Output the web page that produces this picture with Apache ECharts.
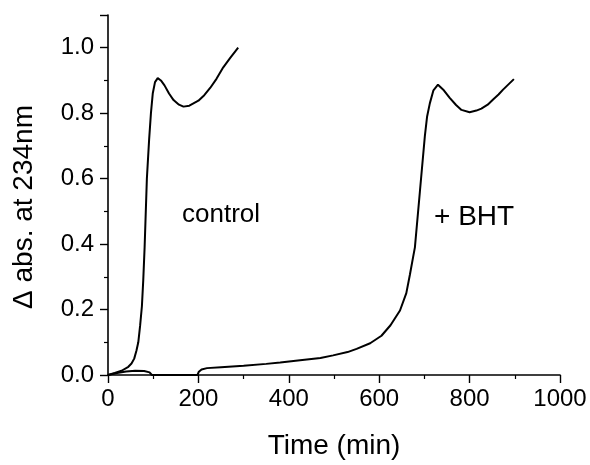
<!DOCTYPE html>
<html>
<head>
<meta charset="utf-8">
<script src="https://cdn.jsdelivr.net/npm/echarts@6/dist/echarts.min.js"></script>
<style>
  html, body { margin: 0; padding: 0; background: #fff; }
  #chart { width: 590px; height: 465px; }
</style>
</head>
<body>
<div id="chart"></div>
<script>
// control curve
var controlTime = [0, 15, 30, 45, 52, 58, 63, 67, 71, 75, 78, 81, 86, 91, 95, 99, 104, 110, 117, 125,
    135, 145, 157, 167, 180, 200, 213, 226, 240, 255, 270, 288];
var controlAbs = [0, 0.006, 0.013, 0.025, 0.035, 0.05, 0.075, 0.1, 0.15, 0.21, 0.29, 0.39, 0.6, 0.72, 0.8, 0.86, 0.895, 0.907, 0.9, 0.885,
    0.86, 0.84, 0.826, 0.82, 0.823, 0.838, 0.855, 0.877, 0.905, 0.94, 0.968, 1.0];

// + BHT curve
var bhtTime = [0, 20, 40, 60, 80, 92, 97, 150, 198, 201, 207, 219, 250, 300, 350, 381, 425, 470, 498, 530,
    550, 580, 605, 625, 646, 660, 668, 675, 679, 690, 701, 706, 712, 720, 730, 743, 756, 770, 782, 800,
    815, 826, 840, 852, 864, 874, 886, 898];
var bhtAbs = [0, 0.006, 0.011, 0.013, 0.012, 0.008, 0, 0, 0, 0.01, 0.017, 0.021, 0.024, 0.028, 0.034, 0.038, 0.045, 0.052, 0.06, 0.07,
    0.08, 0.097, 0.12, 0.152, 0.197, 0.25, 0.307, 0.36, 0.39, 0.56, 0.73, 0.79, 0.83, 0.87, 0.887, 0.87, 0.847, 0.825, 0.81, 0.803,
    0.808, 0.814, 0.826, 0.842, 0.857, 0.872, 0.888, 0.904];

var fontFam = 'Liberation Sans, Arial, Helvetica, sans-serif';

function pairs(xs, ys) {
    var out = [];
    for (var i = 0; i < xs.length; i++) {
        out.push([xs[i], ys[i]]);
    }
    return out;
}

var chart = echarts.init(document.getElementById('chart'));

var axisCommon = {
    axisLine: { show: true, onZero: false, lineStyle: { color: '#000', width: 1.6 } },
    axisTick: { show: true, inside: false, length: 8, lineStyle: { color: '#000', width: 1.4 } },
    minorTick: { show: true, splitNumber: 2, length: 4, lineStyle: { color: '#000', width: 1.2 } },
    splitLine: { show: false },
    nameTextStyle: { color: '#000', fontSize: 28, fontFamily: fontFam }
};

chart.setOption({
    animation: false,
    textStyle: { fontFamily: fontFam },
    grid: { left: 108, right: 30, top: 15, bottom: 87 },
    xAxis: Object.assign({}, axisCommon, {
        type: 'value',
        min: 0,
        max: 1000,
        interval: 200,
        name: 'Time (min)',
        nameLocation: 'middle',
        nameGap: 57,
        axisLabel: {
            color: '#000', fontSize: 24, margin: 12, fontFamily: fontFam,
            formatter: function (v) { return String(v); }
        }
    }),
    yAxis: Object.assign({}, axisCommon, {
        type: 'value',
        min: 0,
        max: 1.1,
        interval: 0.2,
        axisLabel: {
            color: '#000', fontSize: 24, margin: 14, fontFamily: fontFam,
            showMaxLabel: false,
            formatter: function (v) { return v.toFixed(1); }
        }
    }),
    graphic: [
        {
            type: 'text', x: 24, y: 207, rotation: Math.PI / 2,
            style: { text: '\u0394 abs. at 234nm', fontSize: 28, fontFamily: fontFam, fill: '#000', align: 'center', verticalAlign: 'middle' }
        },
        { type: 'text', left: 182, top: 202, style: { text: 'control', fontSize: 26, fontFamily: fontFam, fill: '#000' } },
        { type: 'text', left: 434, top: 203, style: { text: '+ BHT', fontSize: 28, fontFamily: fontFam, fill: '#000' } }
    ],
    series: [
        {
            name: 'control',
            type: 'line',
            symbol: 'none',
            data: pairs(controlTime, controlAbs),
            lineStyle: { color: '#000', width: 2 }
        },
        {
            name: '+ BHT',
            type: 'line',
            symbol: 'none',
            data: pairs(bhtTime, bhtAbs),
            lineStyle: { color: '#000', width: 2 }
        }
    ]
});
</script>
</body>
</html>
